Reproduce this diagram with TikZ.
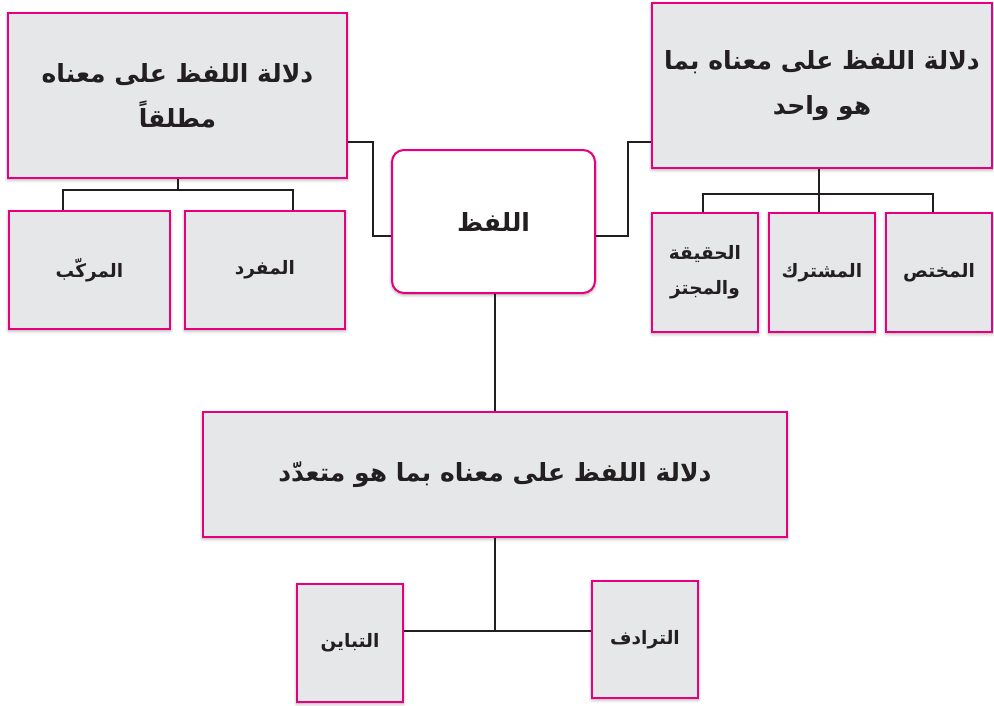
\documentclass[tikz,border=0pt]{standalone}
\usepackage{fontspec}
\newfontfamily\arabicfont[Script=Arabic]{DejaVu Sans}
\TeXXeTstate=1
\usetikzlibrary{shadows.blur}
\definecolor{pinkb}{HTML}{E6007E}
\definecolor{boxgray}{HTML}{E6E7E8}
\definecolor{linec}{HTML}{231F20}
\begin{document}
\begin{tikzpicture}[x=1pt,y=-1pt,
  box/.style={draw=pinkb, line width=2pt, fill=boxgray, text=linec,
    blur shadow={shadow blur steps=6, shadow xshift=0pt, shadow yshift=-1.5pt, shadow blur radius=3.5pt},
    align=center, inner sep=0pt},
  bigtxt/.style={font=\arabicfont\bfseries\fontsize{25}{45}\selectfont},
  smalltxt/.style={font=\arabicfont\bfseries\fontsize{18.5}{35}\selectfont},
  conn/.style={draw=linec, line width=1.6pt}]
\useasboundingbox (0,0) rectangle (994,705);

% top-left group
\node[box, bigtxt, minimum width=339pt, minimum height=165pt] (tl) at (177.5,95.5)
  {\beginR دلالة اللفظ على معناه\endR\\\beginR مطلقاً\endR};
\node[box, smalltxt, minimum width=161pt, minimum height=118pt] (mrk) at (89.5,270) {\beginR المركّب\endR};
\node[box, smalltxt, minimum width=160pt, minimum height=118pt] (mfrd) at (265,270) {\beginR المفرد\endR};

% top-right group
\node[box, bigtxt, minimum width=340pt, minimum height=165pt] (tr) at (822,85.5)
  {\beginR دلالة اللفظ على معناه بما\endR\\\beginR هو واحد\endR};
\node[box, smalltxt, minimum width=106pt, minimum height=119pt] (hqq) at (705,272.5)
  {\beginR الحقيقة\endR\\\beginR والمجتز\endR};
\node[box, smalltxt, minimum width=106pt, minimum height=119pt] (mshtrk) at (822,272.5) {\beginR المشترك\endR};
\node[box, smalltxt, minimum width=106pt, minimum height=119pt] (mkhts) at (939,272.5) {\beginR المختص\endR};

% centre
\node[box, bigtxt, fill=white, rounded corners=12pt, minimum width=203pt, minimum height=143pt] (ctr) at (493.5,221.5) {\beginR اللفظ\endR};

% bottom group
\node[box, bigtxt, minimum width=584pt, minimum height=125pt] (bot) at (495,474.5)
  {\beginR دلالة اللفظ على معناه بما هو متعدّد\endR};
\node[box, smalltxt, minimum width=106pt, minimum height=118pt] (tbyn) at (350,643) {\beginR التباين\endR};
\node[box, smalltxt, minimum width=106pt, minimum height=117pt] (trdf) at (645,639.5) {\beginR الترادف\endR};

% bend points
\coordinate (lb) at (373,142);
\coordinate (lc) at (373,236);
\coordinate (rb) at (628,142);
\coordinate (rc) at (628,236);
\coordinate (tlj) at (178,190);
\coordinate (tla) at (63,190);
\coordinate (tlb) at (293,190);
\coordinate (trj) at (819,194);
\coordinate (tra) at (703,194);
\coordinate (trb) at (933,194);
\coordinate (bj) at (493,631);

% connectors
\draw[conn] (tl.east |- lb) -- (lb) -- (lc) -- (ctr.west |- lc);
\draw[conn] (ctr.east |- rc) -- (rc) -- (rb) -- (tr.west |- rb);
\draw[conn] (tl.south -| tlj) -- (tlj);
\draw[conn] (mrk.north -| tla) -- (tla) -- (tlb) -- (mfrd.north -| tlb);
\draw[conn] (tr.south -| trj) -- (trj);
\draw[conn] (hqq.north -| tra) -- (tra) -- (trb) -- (mkhts.north -| trb);
\draw[conn] (mshtrk.north -| trj) -- (trj);
\draw[conn] (ctr.south -| bot.north) -- (bot.north);
\draw[conn] (bot.south) -- (bot.south |- bj);
\draw[conn] (tbyn.east |- bj) -- (trdf.west |- bj);
\end{tikzpicture}
\end{document}
